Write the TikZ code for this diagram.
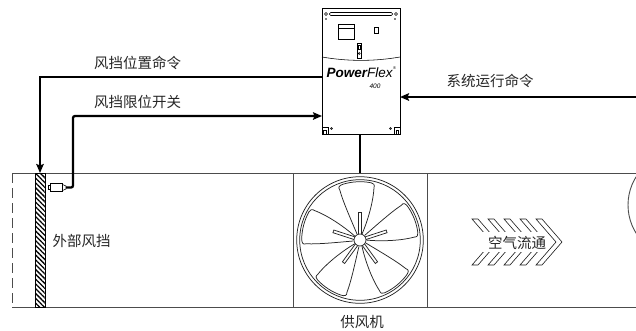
\documentclass[tikz,border=0pt]{standalone}
\usepackage{fontspec}
\setmainfont{Liberation Sans}
\newfontfamily\cjk{Noto Sans CJK SC}
\usetikzlibrary{arrows.meta,patterns.meta,calc}

\begin{document}
\begin{tikzpicture}[x=1pt,y=-1pt,
  wire/.style={line width=2.3pt, draw=black},
  arr/.style={-{Stealth[length=9pt,width=7.5pt,inset=1.5pt]}},
  duct/.style={line width=0.9pt, draw=black!70},
  thinline/.style={line width=0.55pt, draw=black},
  fanline/.style={line width=0.75pt, draw=black!85},
  lbl/.style={font=\cjk\fontsize{14.5}{16}\selectfont, text=black!85, inner sep=0pt},
]
\useasboundingbox (0,0) rectangle (636,330);

% ---- duct walls ----
\draw[duct] (12,173) -- (636,173);
\draw[duct] (12,307) -- (636,307);
\draw[duct, dash pattern=on 10pt off 5pt] (12.5,173) -- (12.5,307);

% next fan further down the duct
\begin{scope}
  \clip (0,0) rectangle (636,330);
  \draw[duct] (681,205) circle[radius=53];
\end{scope}

% ---- damper and its limit switch ----
\node[draw, line width=0.8pt, pattern={Lines[angle=-45,distance=3.4pt,line width=1.3pt]},
      minimum width=10pt, minimum height=134pt, inner sep=0pt, outer sep=0pt] (damper) at (40,240) {};
\node[thinline, draw, minimum width=12pt, minimum height=8pt, inner sep=0pt, outer sep=0pt] (lsw) at (56.5,187.5) {};
\draw[thinline] ([yshift=2pt]lsw.west) -- ++(-2.5,0) -- ++(0,4) -- ++(2.5,0);
\draw[thinline] ([yshift=3pt]lsw.east) -- ++(3.5,1.5) -- ++(0,3) -- ([yshift=-3pt]lsw.east);
\coordinate (lswout) at ($(lsw.east)+(3.5,0)$);

% ---- supply fan ----
\node[draw=black!70, line width=0.9pt, minimum size=134pt, inner sep=0pt, outer sep=0pt] (fanbox) at (360,240) {};
\begin{scope}[shift={(360,240)}, x=1pt, y=1pt]
  \draw[fanline] (0,0) circle[radius=63.3];
  \draw[fanline] (0,0) circle[radius=60.3];
  \foreach \a in {0,-72,-144,-216,-288} {
    \draw[fanline, rotate=\a]
      (-3,6) .. controls (-8,18) and (-17,38) .. (112:54)
      .. controls (113:57.5) and (110.5:58.3) .. (107:58.3)
      arc[start angle=107, end angle=79, radius=58.3]
      .. controls (76.5:58.3) and (75:57.5) .. (75:54)
      .. controls (13,35) and (6,15) .. (2,6);
  }
  \foreach \a in {90,162,234,306,18} {
    \draw[fanline, fill=white, rotate=\a] (5,-1.4) rectangle (28,1.4);
  }
  \draw[fanline, fill=white] (0,0) circle[radius=6];
\end{scope}

% ---- air flow chevrons ----
\foreach \i in {0,...,4} {
  \pgfmathsetmacro{\xo}{472+16*\i}
  \draw[line width=0.6pt, draw=black!90]
    (\xo,219) -- (\xo+20,242) -- (\xo,265) -- (\xo+6,265) -- (\xo+26,242) -- (\xo+6,219) -- cycle;
}
\fill[white] (478,232) rectangle (546.5,251.5);
\node[lbl] (air) at (517,242.5) {空气流通};

% ---- PowerFlex drive ----
\node[draw, line width=0.7pt, minimum width=78pt, minimum height=126pt, inner sep=0pt, outer sep=0pt] (drive) at (361,71.5) {};
\draw[thinline, rounded corners=1.2pt] (329.5,12.5) rectangle (392.5,15.5);
\draw[thinline] (326,14) circle[radius=1.5];
\draw[thinline] (396,14) circle[radius=1.5];
\fill (326,19) circle[radius=0.9];
\fill (395,19) circle[radius=0.9];
\draw[thinline] (338.5,24) rectangle (354.5,39);
\draw[thinline] (338.5,28) -- (354.5,28);
\draw[line width=0.9pt] (374.5,27.5) rectangle (378.5,33.5);
\draw[thinline] (357,43) rectangle (361.5,58);
\draw[thinline] (358,45) rectangle (360.5,49);
\draw[thinline] (359.2,53.5) circle[radius=1];
\draw[thinline] (322,57) .. controls (348,61.5) and (374,61.5) .. (400,57);
\node[inner sep=0pt, anchor=base west] (brand) at (326.5,77)
  {\fontsize{13.5}{14}\selectfont\bfseries\itshape Power\mdseries Flex};
\node[inner sep=0pt, anchor=south west, font=\fontsize{4}{4}\selectfont] (reg) at ([yshift=-3pt]brand.north east) {\textregistered};
\node[inner sep=0pt, font=\fontsize{6.5}{7}\selectfont\itshape] (model) at (375,86.5) {400};
\draw[thinline] (322,127) -- (328,127) -- (328,134);
\draw[thinline] (323.5,134) -- (323.5,130) -- (326.5,130) -- (326.5,134);
\draw[thinline] (331.5,128.5) circle[radius=0.9];
\draw[thinline] (400,127) -- (394.5,127) -- (394.5,134);
\draw[thinline] (396,134) -- (396,130) -- (398.5,130) -- (398.5,134);
\draw[thinline] (390.5,128.5) circle[radius=0.9];

% ---- signal wiring ----
\coordinate (cmdcorner) at (40,77);
\draw[wire, arr] (cmdcorner -| drive.west) -- (cmdcorner) -- (damper.north);

\coordinate (lscorner) at (73,116);
\draw[wire, arr, rounded corners=2pt] (lswout) -| (lscorner) -- (lscorner -| drive.west);

\coordinate (runsrc) at (636,97);
\draw[wire, arr] (runsrc) -- (runsrc -| drive.east);

\draw[wire] (fanbox.north |- drive.south) -- (fanbox.north);

% ---- labels ----
\node[lbl] (lblcmd) at (137.5,63) {风挡位置命令};
\node[lbl] (lbllim) at (137.5,101.5) {风挡限位开关};
\node[lbl] (lblrun) at (490,81) {系统运行命令};
\node[lbl] (lbldamp) at (81.5,241) {外部风挡};
\node[lbl] (lblfan) at (362,322) {供风机};
\end{tikzpicture}
\end{document}
